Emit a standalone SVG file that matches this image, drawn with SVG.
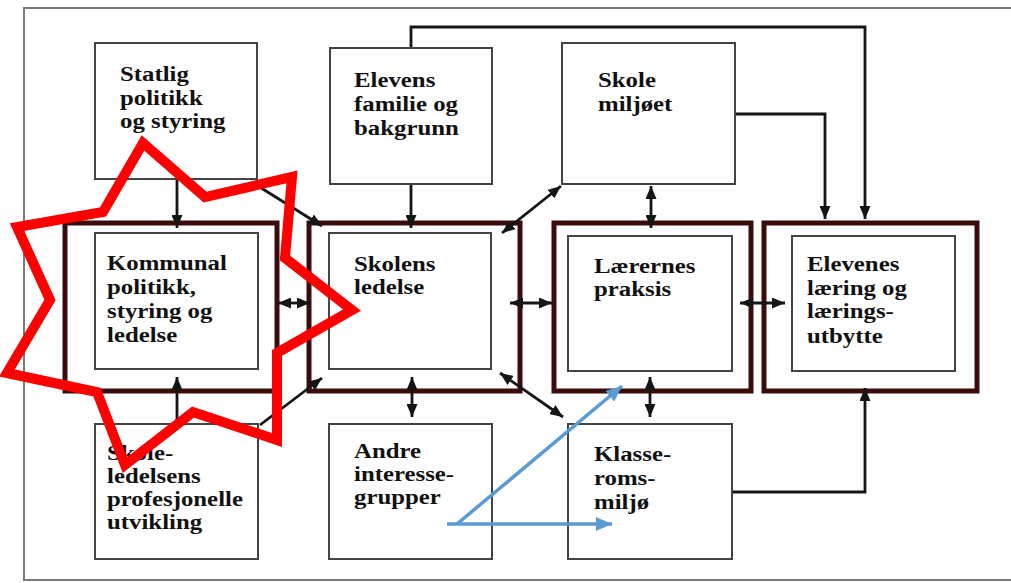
<svg xmlns="http://www.w3.org/2000/svg" width="1011" height="583" viewBox="0 0 1011 583">
<style>
.frame{fill:none;stroke:#7a7a7a;stroke-width:2}
.box{fill:#fff;stroke:#444;stroke-width:2}
.thick{fill:none;stroke:#3a0c0c;stroke-width:5}
.c{fill:none;stroke:#151515;stroke-width:2.8}
.b{fill:none;stroke:#5b9bd5;stroke-width:3.5}
.t{font-family:"Liberation Serif","Times New Roman",serif;font-weight:bold;font-size:20.5px;fill:#111}
.star{fill:none;stroke:#ff0000;stroke-width:10;stroke-linejoin:miter}
</style>
<defs>
<marker id="ah" markerUnits="userSpaceOnUse" viewBox="0 0 13 11" refX="13" refY="5.5" markerWidth="13" markerHeight="11" orient="auto-start-reverse"><path d="M0,0 L13,5.5 L0,11 Z" fill="#151515"/></marker>
<marker id="bh" markerUnits="userSpaceOnUse" viewBox="0 0 16 14" refX="16" refY="7" markerWidth="16" markerHeight="14" orient="auto"><path d="M0,0 L16,7 L0,14 Z" fill="#5b9bd5"/></marker>
</defs>
<rect width="1011" height="583" fill="#fff"/>
<rect class="frame" x="24" y="8" width="1000" height="572"/>

<g id="thick-frames">
<rect class="thick" x="65" y="223" width="212" height="168"/>
<rect class="thick" x="309" y="223" width="211" height="168"/>
<rect class="thick" x="554" y="223" width="197" height="168"/>
<rect class="thick" x="764" y="223" width="213" height="168"/>
</g>

<g id="connectors">
<path class="c" d="M177,179 V228" marker-end="url(#ah)"/>
<path class="c" d="M258,186 L322,226" marker-end="url(#ah)"/>
<path class="c" d="M411,184 V228" marker-end="url(#ah)"/>
<path class="c" d="M411,48 V27 H865 V219" marker-end="url(#ah)"/>
<path class="c" d="M735,114 H825 V219" marker-end="url(#ah)"/>
<path class="c" d="M502,233 L561,186" marker-start="url(#ah)" marker-end="url(#ah)"/>
<path class="c" d="M651,186 V228" marker-start="url(#ah)" marker-end="url(#ah)"/>
<path class="c" d="M278,303 H310" marker-start="url(#ah)" marker-end="url(#ah)"/>
<path class="c" d="M510,303 H552" marker-start="url(#ah)" marker-end="url(#ah)"/>
<path class="c" d="M740,303 H785" marker-start="url(#ah)" marker-end="url(#ah)"/>
<path class="c" d="M412,377 V417" marker-start="url(#ah)" marker-end="url(#ah)"/>
<path class="c" d="M500,373 L563,417" marker-start="url(#ah)" marker-end="url(#ah)"/>
<path class="c" d="M650,377 V417" marker-start="url(#ah)" marker-end="url(#ah)"/>
<path class="c" d="M732,492 H865 V388" marker-end="url(#ah)"/>
<path class="c" d="M177,424 V377" marker-end="url(#ah)"/>
<path class="c" d="M260,425 L322,378" marker-end="url(#ah)"/>
</g>

<g id="statlig">
<rect class="box" x="95" y="43" width="162" height="136"/>
<text class="t" transform="translate(120,0) scale(1.21,1)"><tspan x="0" y="81">Statlig</tspan><tspan x="0" y="105">politikk</tspan><tspan x="0" y="128">og styring</tspan></text>
</g>
<g id="elevens-familie">
<rect class="box" x="330" y="48" width="162" height="136"/>
<text class="t" transform="translate(354,0) scale(1.21,1)"><tspan x="0" y="87">Elevens</tspan><tspan x="0" y="111">familie og</tspan><tspan x="0" y="135">bakgrunn</tspan></text>
</g>
<g id="skolemiljoet">
<rect class="box" x="562" y="43" width="173" height="141"/>
<text class="t" transform="translate(598,0) scale(1.21,1)"><tspan x="0" y="87">Skole</tspan><tspan x="0" y="111">miljøet</tspan></text>
</g>
<g id="kommunal">
<rect class="box" x="95" y="233" width="163" height="136"/>
<text class="t" transform="translate(107,0) scale(1.21,1)"><tspan x="0" y="270">Kommunal</tspan><tspan x="0" y="294">politikk,</tspan><tspan x="0" y="318">styring og</tspan><tspan x="0" y="342">ledelse</tspan></text>
</g>
<g id="skolens-ledelse">
<rect class="box" x="329" y="233" width="162" height="136"/>
<text class="t" transform="translate(354,0) scale(1.21,1)"><tspan x="0" y="271">Skolens</tspan><tspan x="0" y="294">ledelse</tspan></text>
</g>
<g id="laerernes-praksis">
<rect class="box" x="568" y="236" width="164" height="135"/>
<text class="t" transform="translate(594,0) scale(1.21,1)"><tspan x="0" y="273">Lærernes</tspan><tspan x="0" y="296">praksis</tspan></text>
</g>
<g id="elevenes-laering">
<rect class="box" x="792" y="236" width="163" height="135"/>
<text class="t" transform="translate(807,0) scale(1.21,1)"><tspan x="0" y="271">Elevenes</tspan><tspan x="0" y="295">læring og</tspan><tspan x="0" y="318">lærings-</tspan><tspan x="0" y="343">utbytte</tspan></text>
</g>
<g id="skoleledelsens">
<rect class="box" x="95" y="424" width="163" height="135"/>
<text class="t" transform="translate(107,0) scale(1.21,1)"><tspan x="0" y="460">Skole-</tspan><tspan x="0" y="483">ledelsens</tspan><tspan x="0" y="506">profesjonelle</tspan><tspan x="0" y="529">utvikling</tspan></text>
</g>
<g id="andre">
<rect class="box" x="329" y="424" width="163" height="135"/>
<text class="t" transform="translate(354,0) scale(1.21,1)"><tspan x="0" y="458">Andre</tspan><tspan x="0" y="481">interesse-</tspan><tspan x="0" y="504">grupper</tspan></text>
</g>
<g id="klasseromsmiljo">
<rect class="box" x="568" y="424" width="164" height="135"/>
<text class="t" transform="translate(594,0) scale(1.21,1)"><tspan x="0" y="461">Klasse-</tspan><tspan x="0" y="485">roms-</tspan><tspan x="0" y="509">miljø</tspan></text>
</g>

<g id="blue-arrows">
<path class="b" d="M447,524 H612" marker-end="url(#bh)"/>
<path class="b" d="M457,524 L622,386" marker-end="url(#bh)"/>
</g>

<g id="star">
<polygon class="star" points="143,143 205,197 292,177 285,258 352,310 277,353 277,440 193,412 125,465 97,392 7,373 50,300 17,227 103,212"/>
</g>
</svg>
